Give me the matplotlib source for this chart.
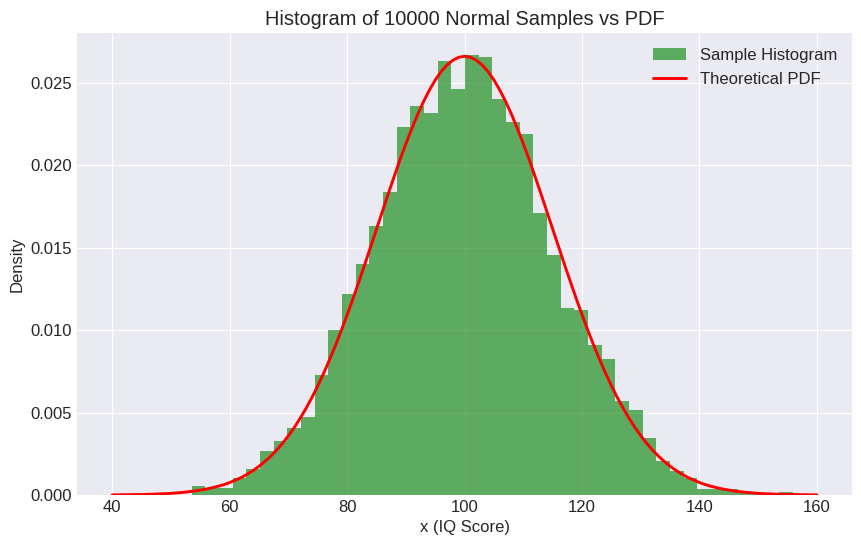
import numpy as np
import matplotlib
matplotlib.use('Agg')
import matplotlib.pyplot as plt

bin_start = 53.48
bin_width = 2.328
hist_density = [0.00053, 0.00042, 0.00045, 0.00101, 0.00156, 0.00265, 0.00326, 0.00405,
                0.00471, 0.00726, 0.01000, 0.01218, 0.01400, 0.01630, 0.01837, 0.02231,
                0.02358, 0.02316, 0.02632, 0.02462, 0.02668, 0.02656, 0.02401, 0.02261,
                0.02189, 0.01709, 0.01454, 0.01133, 0.01121, 0.00908, 0.00823, 0.00568,
                0.00513, 0.00344, 0.00204, 0.00144, 0.00101, 0.00035, 0.00037, 0.00037,
                0.00012, 0.00009, 0.00009, 0.00016]

# curve read at each whole x, from 40 up to the peak at 100; the right side mirrors it
pdf_x = list(range(40, 161))
pdf_left = [0.00001, 0.00001, 0.00002, 0.00002, 0.00003, 0.00003, 0.00004, 0.00005, 0.00007, 0.00008,
            0.00010, 0.00013, 0.00016, 0.00020, 0.00024, 0.00030, 0.00036, 0.00044, 0.00053, 0.00063,
            0.00076, 0.00091, 0.00107, 0.00127, 0.00149, 0.00175, 0.00204, 0.00236, 0.00273, 0.00314,
            0.00360, 0.00410, 0.00466, 0.00526, 0.00592, 0.00663, 0.00739, 0.00821, 0.00907, 0.00998,
            0.01093, 0.01192, 0.01295, 0.01399, 0.01506, 0.01613, 0.01720, 0.01827, 0.01931, 0.02033,
            0.02130, 0.02221, 0.02307, 0.02385, 0.02455, 0.02516, 0.02567, 0.02607, 0.02636, 0.02654,
            0.02660]
pdf_y = pdf_left + pdf_left[-2::-1]

plt.style.use('seaborn-v0_8-darkgrid')
plt.rcParams['font.family'] = ['Liberation Sans', 'DejaVu Sans']

edges = bin_start + bin_width * np.arange(len(hist_density) + 1)
centers = (edges[:-1] + edges[1:]) / 2

fig, ax = plt.subplots(figsize=(8.62, 5.45), dpi=100)
ax.hist(centers, bins=edges, weights=hist_density, color='g', alpha=0.6, label='Sample Histogram')
ax.plot(pdf_x, pdf_y, color='r', linewidth=2.1, label='Theoretical PDF')
ax.set_title('Histogram of 10000 Normal Samples vs PDF', fontsize=14.4)
ax.set_xlabel('x (IQ Score)', fontsize=12)
ax.set_ylabel('Density', fontsize=12)
ax.tick_params(labelsize=12)
ax.legend(fontsize=12, labelspacing=0.55)
fig.subplots_adjust(left=0.0895, right=0.9885, top=0.9395, bottom=0.0917)
fig.savefig('out.png', dpi=100)
